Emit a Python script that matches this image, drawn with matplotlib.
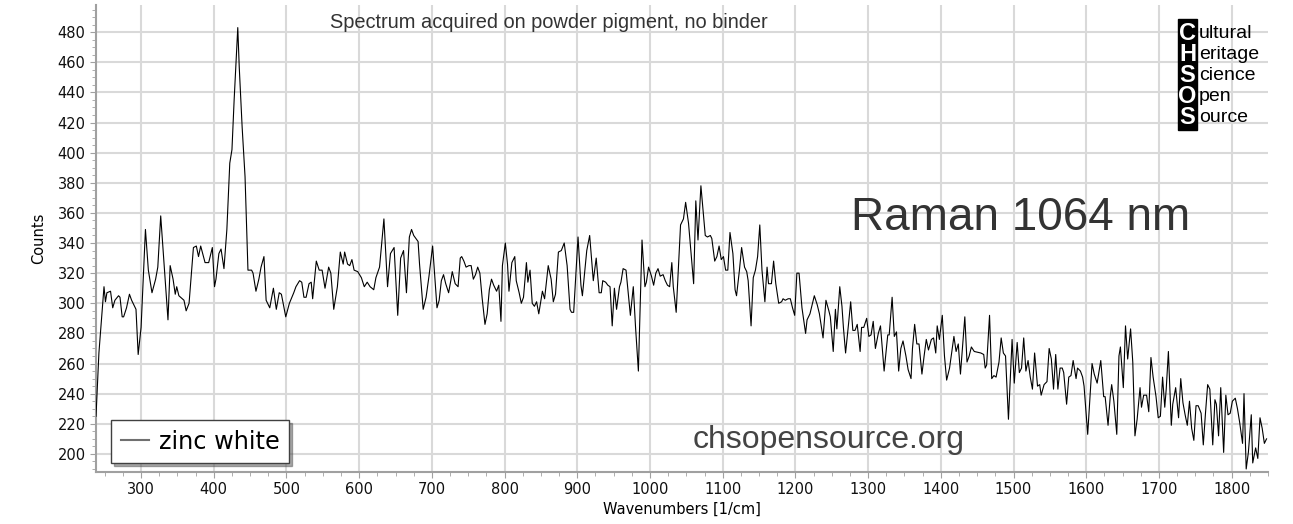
import matplotlib
matplotlib.use("Agg")
import matplotlib.pyplot as plt
from matplotlib.ticker import MultipleLocator
from matplotlib.patches import Rectangle

# spectrum (wavenumber, counts)
wavenumber = [
    238, 242, 249, 251, 253, 258, 261, 264, 269, 271, 274, 276, 280, 284, 287, 293, 296, 300,
    306, 310, 315, 320, 323, 327, 332, 337, 340, 344, 347, 349, 352, 359, 362, 366, 372, 376,
    379, 382, 388, 393, 398, 401, 403, 407, 410, 414, 418, 422, 425, 428, 433, 435, 439, 443,
    447, 452, 454, 458, 462, 465, 469, 472, 477, 482, 486, 490, 493, 499, 504, 510, 513, 518,
    521, 524, 527, 531, 534, 536, 541, 545, 549, 553, 558, 561, 565, 570, 574, 578, 580, 584,
    587, 590, 593, 598, 603, 607, 611, 615, 620, 623, 628, 634, 639, 643, 648, 653,
    657, 661, 665, 669, 672, 675, 678, 681, 683, 688, 692, 696, 701, 707, 710, 713, 716, 719,
    723, 726, 728, 732, 736, 739, 741, 744, 747, 751, 754, 757, 760, 763, 766, 769, 773, 776,
    779, 782, 785, 789, 792, 795, 797, 801, 804, 806, 810, 814, 816, 820, 823, 826, 830, 832,
    835, 838, 841, 844, 847, 852, 855, 860, 864, 867, 870, 874, 878, 882, 886, 890, 892, 895,
    901, 905, 907, 913, 917, 922, 926, 930, 933, 935, 939, 942, 945, 948, 951, 954, 958, 960,
    963, 967, 970, 973, 977, 980, 984, 989, 993, 995, 998, 1002, 1005, 1008, 1011, 1014, 1018,
    1021, 1024, 1027, 1030, 1032, 1036, 1042, 1046, 1049, 1053,
    1060, 1063, 1066, 1070, 1076, 1079, 1083, 1085, 1089, 1092, 1095, 1098, 1101, 1104, 1107,
    1110, 1114, 1117, 1119, 1123, 1126, 1130, 1133, 1135, 1139, 1142, 1145, 1148, 1151, 1154,
    1158, 1161, 1163, 1167, 1170, 1173, 1177, 1181, 1183, 1186, 1190, 1193, 1196, 1199, 1202,
    1205, 1209, 1214, 1216, 1220, 1223, 1226, 1230, 1233, 1238, 1242, 1246, 1248, 1252, 1255,
    1257, 1261, 1264, 1266, 1269, 1273, 1276, 1279, 1282, 1285, 1289, 1291, 1294, 1298, 1301,
    1304, 1307, 1310, 1314, 1317, 1322, 1327, 1329, 1333, 1336, 1339, 1342, 1345, 1348, 1352,
    1355, 1359, 1361, 1364, 1367, 1370, 1374, 1377, 1380, 1383, 1387, 1390, 1393, 1395, 1398,
    1402, 1405, 1408, 1412, 1418, 1421, 1424, 1427, 1433, 1436, 1439, 1442, 1446,
    1455, 1459, 1461, 1463, 1467, 1470, 1473, 1476, 1480, 1483, 1486, 1489, 1493, 1498, 1501,
    1505, 1508, 1511, 1514, 1517, 1520, 1523, 1526, 1529, 1533, 1536, 1538, 1542, 1546, 1549,
    1552, 1555, 1558, 1561, 1564, 1567, 1569, 1573, 1576, 1579, 1582, 1586, 1588, 1592, 1595,
    1597, 1602, 1608, 1611, 1615, 1620, 1624, 1626, 1630, 1633, 1635, 1638, 1642, 1645, 1647,
    1651, 1654, 1657, 1661, 1664, 1667, 1670, 1674, 1676, 1679, 1683, 1686, 1689, 1692, 1696,
    1699, 1702, 1705, 1708, 1710, 1713, 1717, 1719, 1723, 1727, 1730, 1733, 1736, 1739, 1742,
    1745, 1748, 1751, 1754, 1758, 1761, 1764, 1767, 1770, 1774, 1777, 1779, 1782, 1785, 1789,
    1792, 1795, 1798, 1801, 1805, 1808, 1811, 1815, 1817, 1820, 1823, 1827, 1829, 1833, 1836,
    1839, 1842, 1845, 1848,
]
counts = [
    225, 267, 311, 301, 307, 308, 297, 302, 305, 304, 291, 291, 297, 306, 302, 296, 266, 284,
    349, 322, 307, 316, 324, 358, 324, 289, 325, 316, 306, 311, 305, 302, 295, 300, 337, 338,
    331, 338, 327, 327, 337, 311, 316, 333, 336, 323, 349, 393, 402, 435, 483, 457, 417, 384,
    322, 322, 320, 308, 316, 324, 331, 302, 297, 310, 296, 307, 306, 291, 300, 307, 311, 315,
    314, 304, 304, 313, 314, 303, 328, 322, 322, 310, 324, 320, 296, 311, 334, 326, 334, 326,
    325, 329, 322, 321, 317, 311, 314, 311, 309, 317, 324, 356, 311, 333, 337, 292,
    330, 335, 307, 344, 349, 345, 343, 341, 326, 296, 304, 318, 338, 297, 302, 315, 319, 313,
    307, 315, 321, 313, 311, 330, 331, 328, 324, 325, 325, 316, 319, 324, 320, 304, 286, 293,
    309, 316, 312, 308, 312, 288, 325, 340, 326, 308, 327, 331, 315, 307, 300, 304, 327, 314,
    322, 300, 298, 301, 293, 308, 303, 325, 316, 301, 306, 334, 335, 340, 325, 296, 294, 294,
    344, 312, 305, 335, 345, 315, 330, 307, 307, 315, 314, 312, 311, 285, 310, 296, 311, 314,
    323, 322, 307, 292, 311, 285, 255, 342, 311, 314, 324, 318, 312, 320, 323, 318, 319,
    315, 312, 311, 327, 311, 294, 352, 356, 367, 353,
    313, 368, 342, 378, 345, 344, 345, 343, 328, 331, 338, 329, 331, 322, 322,
    347, 333, 309, 305, 322, 337, 324, 321, 315, 285, 317, 322, 331, 352, 322,
    301, 324, 313, 313, 328, 313, 300, 301, 303, 302, 303, 303, 297, 292, 320,
    320, 297, 280, 289, 293, 299, 305, 299, 293, 277, 302, 295, 291, 268, 296,
    283, 311, 298, 284, 267, 286, 301, 282, 282, 286, 268, 284, 284, 290, 278,
    279, 288, 270, 280, 285, 255, 279, 279, 304, 278, 281, 255, 270, 275, 265,
    256, 250, 270, 286, 273, 273, 253, 265, 276, 269, 276, 277, 267, 285, 276,
    292, 265, 249, 257, 278, 268, 273, 253, 291, 261, 265, 271, 268,
    267, 266, 257, 259, 292, 250, 252, 251, 261, 277, 267, 265, 223, 276, 247,
    274, 254, 257, 277, 255, 262, 251, 243, 267, 245, 246, 239, 246, 248, 270,
    263, 243, 266, 243, 257, 257, 254, 233, 251, 252, 262, 250, 257, 255, 251,
    245, 213, 260, 253, 247, 262, 238, 238, 219, 238, 246, 235, 213, 265, 271,
    244, 285, 263, 283, 261, 212, 223, 244, 231, 239, 239, 228, 264, 251, 238,
    224, 225, 251, 231, 243, 268, 219, 233, 244, 224, 250, 234, 226, 219, 235,
    217, 209, 232, 232, 227, 206, 227, 246, 243, 206, 236, 233, 212, 244, 201,
    239, 226, 227, 235, 237, 230, 221, 207, 240, 190, 201, 226, 194, 204, 197,
    224, 217, 207, 210,
]

series_name = "zinc white"
x_label = "Wavenumbers [1/cm]"
y_label = "Counts"
note = "Spectrum acquired on powder pigment, no binder"
big_title = "Raman 1064 nm"
site = "chsopensource.org"
logo_caps = ["C", "H", "S", "O", "S"]
logo_rest = ["ultural", "eritage", "cience", "pen", "ource"]

fig = plt.figure(figsize=(12.93, 5.24), dpi=100)
ax = fig.add_axes([96 / 1293, 52 / 524, (1268 - 96) / 1293, (519 - 52) / 524])

ax.plot(wavenumber, counts, color="black", lw=0.8, label=series_name, zorder=3)

ax.set_xlim(238, 1850)
ax.set_ylim(188, 498)
ax.xaxis.set_major_locator(MultipleLocator(100))
ax.xaxis.set_minor_locator(MultipleLocator(25))
ax.yaxis.set_major_locator(MultipleLocator(20))
ax.yaxis.set_minor_locator(MultipleLocator(5))
ax.grid(True, which="major", color="#d9d9d9", lw=1.5)
ax.set_axisbelow(True)

for s in ["top", "right"]:
    ax.spines[s].set_visible(False)
for s in ["left", "bottom"]:
    ax.spines[s].set_color("#a0a0a0")
    ax.spines[s].set_linewidth(1.5)
ax.tick_params(which="both", color="#a0a0a0", labelsize=10.5, labelcolor="#101010")
ax.tick_params(which="major", length=4)
ax.tick_params(which="minor", length=3)

ax.set_xlabel(x_label, fontsize=10.5, labelpad=3)
ax.set_ylabel(y_label, fontsize=10.5, labelpad=8)

leg = ax.legend(loc="lower left", bbox_to_anchor=(0.0128, 0.019), fontsize=17.3,
                frameon=True, fancybox=False, shadow={"ox": 2, "oy": -2, "color": "#555555"},
                handlelength=1.2, handletextpad=0.4, borderpad=0.4, borderaxespad=0,
                edgecolor="#404040")
leg.get_lines()[0].set_color("#707070")
leg.get_lines()[0].set_linewidth(1.5)
leg.get_frame().set_linewidth(1.0)

fig.text(549 / 1293, 1 - 22 / 524, note, ha="center", va="center",
         fontsize=14.4, family="Liberation Sans", color="#333333")
fig.text(1021 / 1293, 1 - 218 / 524, big_title, ha="center", va="center",
         fontsize=33, family="Liberation Sans", color="#333333")
fig.text(829 / 1293, 1 - 440 / 524, site, ha="center", va="center",
         fontsize=23, family="Liberation Sans", color="#444444")

# CHSOS logo
fig.patches.append(Rectangle((1178 / 1293, 1 - 130 / 524), 19 / 1293, 111 / 524,
                             transform=fig.transFigure, color="black", zorder=5))
for i, (c, r) in enumerate(zip(logo_caps, logo_rest)):
    yy = 1 - (34 + i * 20.8) / 524
    fig.text(1187.5 / 1293, yy, c, ha="center", va="center", color="white",
             fontsize=17, fontweight="bold", family="Liberation Sans", zorder=6)
    fig.text(1199 / 1293, yy, r, ha="left", va="center", color="black",
             fontsize=14, family="Liberation Sans", zorder=6)

fig.savefig("out.png", dpi=100)
